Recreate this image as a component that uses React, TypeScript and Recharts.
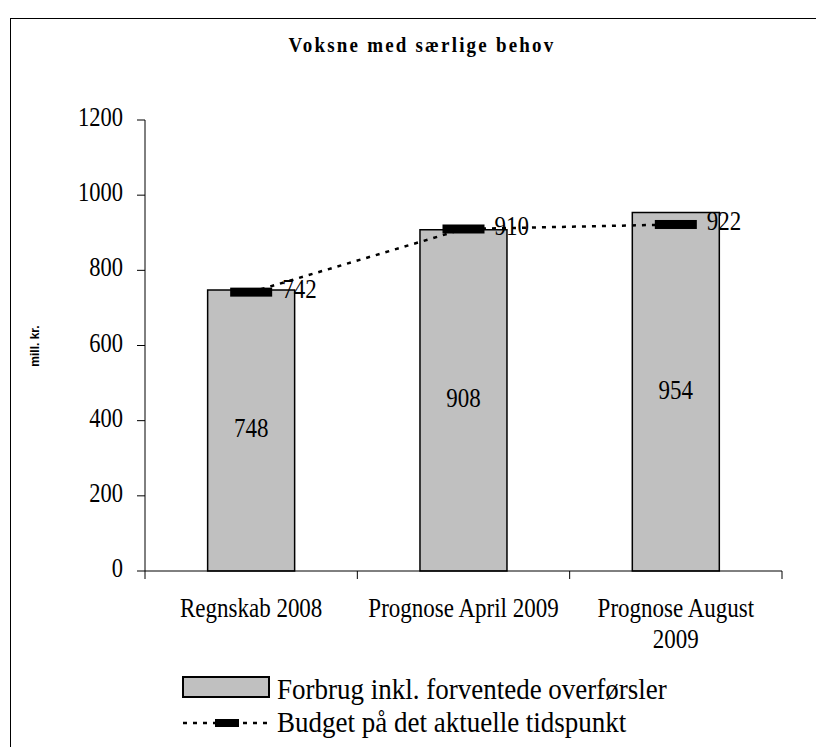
import React from "react";
import { ComposedChart, Bar, Line, XAxis, YAxis, LabelList } from "recharts";

const categories = ["Regnskab 2008", "Prognose April 2009", "Prognose August 2009"];
const forbrug = [748, 908, 954];
const budget = [742, 910, 922];
const yTicks = [0, 200, 400, 600, 800, 1000, 1200];
const title = "Voksne med særlige behov";
const yLabel = "mill. kr.";
const legendBar = "Forbrug inkl. forventede overførsler";
const legendLine = "Budget på det aktuelle tidspunkt";

const data = categories.map((c, i) => ({ name: c, forbrug: forbrug[i], budget: budget[i] }));

const FONT = "'Liberation Serif', 'Times New Roman', serif";
const SANS = "'Liberation Sans', Arial, sans-serif";
const W = 816;
const H = 739;
const XH = 60;
const M = { top: 112, right: 42, left: 0, bottom: 739 - 563 - XH };
const YW = 137;
const PLOT_W = W - M.right - YW;
const BAND = PLOT_W / categories.length;
const SY = 1.17;

let ctx: CanvasRenderingContext2D | null = null;
const measure = (s: string, size: number) => {
  if (!ctx) ctx = document.createElement("canvas").getContext("2d");
  if (!ctx) return s.length * size * 0.45;
  ctx.font = `${size}px 'Liberation Serif'`;
  return ctx.measureText(s).width;
};
const wrap = (s: string, size: number, maxW: number) => {
  const words = s.split(" ");
  const lines: string[] = [];
  let cur = "";
  for (const w of words) {
    const t = cur ? cur + " " + w : w;
    if (cur && measure(t, size) > maxW) {
      lines.push(cur);
      cur = w;
    } else cur = t;
  }
  if (cur) lines.push(cur);
  return lines;
};

const SText = ({ x, y, size = 23, anchor = "start", sy = SY, weight = "normal", spacing = 0, children }: any) => (
  <text
    transform={`translate(${x},${y}) scale(1,${sy})`}
    textAnchor={anchor}
    fontFamily={FONT}
    fontSize={size}
    fontWeight={weight}
    letterSpacing={spacing}
    fill="#000"
  >
    {children}
  </text>
);

const XTick = (props: any) => {
  const { x, y, payload, index } = props;
  const left = x - BAND / 2;
  const lines = wrap(String(payload.value), 23, 200);
  return (
    <g>
      <line x1={left} y1={y} x2={left} y2={y + 8} stroke="#000" strokeWidth={1} />
      {index === categories.length - 1 && (
        <line x1={x + BAND / 2} y1={y} x2={x + BAND / 2} y2={y + 8} stroke="#000" strokeWidth={1} />
      )}
      {lines.map((ln, i) => (
        <SText key={i} x={x} y={y + 46 + i * 31} anchor="middle" size={23}>
          {ln}
        </SText>
      ))}
    </g>
  );
};

const YTick = (props: any) => {
  const { x, y, payload } = props;
  return (
    <SText x={x} y={y + 6} anchor="end" size={22.5}>
      {payload.value}
    </SText>
  );
};

const BudgetDot = (props: any) => {
  const { cx, cy } = props;
  if (cx == null || cy == null) return null;
  return <rect x={cx - 21} y={cy - 4.5} width={42} height={9} fill="#000" />;
};

const BudgetLabel = (props: any) => {
  const { x, y, value } = props;
  return (
    <SText x={x + 31} y={y + 6} size={23}>
      {value}
    </SText>
  );
};

const BarLabel = (props: any) => {
  const { x, y, width, height, value } = props;
  return (
    <SText x={x + width / 2} y={y + height / 2 + 7} anchor="middle" size={23}>
      {value}
    </SText>
  );
};

export default function App() {
  return (
    <div style={{ position: "relative", width: W, height: H, background: "#fff", overflow: "hidden" }}>
      <div
        style={{
          position: "absolute",
          left: 2,
          top: 10,
          width: 860,
          height: 800,
          border: "1.5px solid #000",
          boxSizing: "border-box",
        }}
      />
      <div style={{ position: "absolute", left: 0, top: 0 }}>
        <ComposedChart width={W} height={H} data={data} margin={M} barCategoryGap="29.5%">
          <XAxis
            dataKey="name"
            axisLine={{ stroke: "#000", strokeWidth: 1 }}
            tickLine={false}
            tickSize={0}
            tickMargin={0}
            tick={<XTick />}
            interval={0}
            height={XH}
          />
          <YAxis
            width={YW}
            domain={[0, 1200]}
            ticks={yTicks}
            axisLine={{ stroke: "#000", strokeWidth: 1 }}
            tickLine={{ stroke: "#000", strokeWidth: 1 }}
            tickSize={8}
            tickMargin={14}
            tick={<YTick />}
          />
          <Bar dataKey="forbrug" fill="#c0c0c0" stroke="#000" strokeWidth={1.5} isAnimationActive={false}>
            <LabelList dataKey="forbrug" content={<BarLabel />} />
          </Bar>
          <Line
            dataKey="budget"
            stroke="#000"
            strokeWidth={2.5}
            strokeDasharray="4 6"
            dot={<BudgetDot />}
            activeDot={false}
            isAnimationActive={false}
          >
            <LabelList dataKey="budget" content={<BudgetLabel />} />
          </Line>
        </ComposedChart>
      </div>
      <svg width={W} height={H} style={{ position: "absolute", left: 0, top: 0, pointerEvents: "none" }}>
        <SText x={414} y={44} anchor="middle" size={19} weight="bold" spacing={2.2} sy={1.15}>
          {title}
        </SText>
        <text
          transform="translate(31,338) rotate(-90)"
          textAnchor="middle"
          fontFamily={SANS}
          fontSize={12}
          fontWeight="bold"
          fill="#000"
        >
          {yLabel}
        </text>
        <rect x={175} y={669} width={86} height={20} fill="#c0c0c0" stroke="#000" strokeWidth={2} />
        <SText x={269} y={691} size={27} sy={1.1}>
          {legendBar}
        </SText>
        <line x1={175} y1={715} x2={262} y2={715} stroke="#000" strokeWidth={2.5} strokeDasharray="4 6" />
        <rect x={207} y={711} width={24} height={8} fill="#000" />
        <SText x={269} y={724} size={27} sy={1.1}>
          {legendLine}
        </SText>
      </svg>
    </div>
  );
}
